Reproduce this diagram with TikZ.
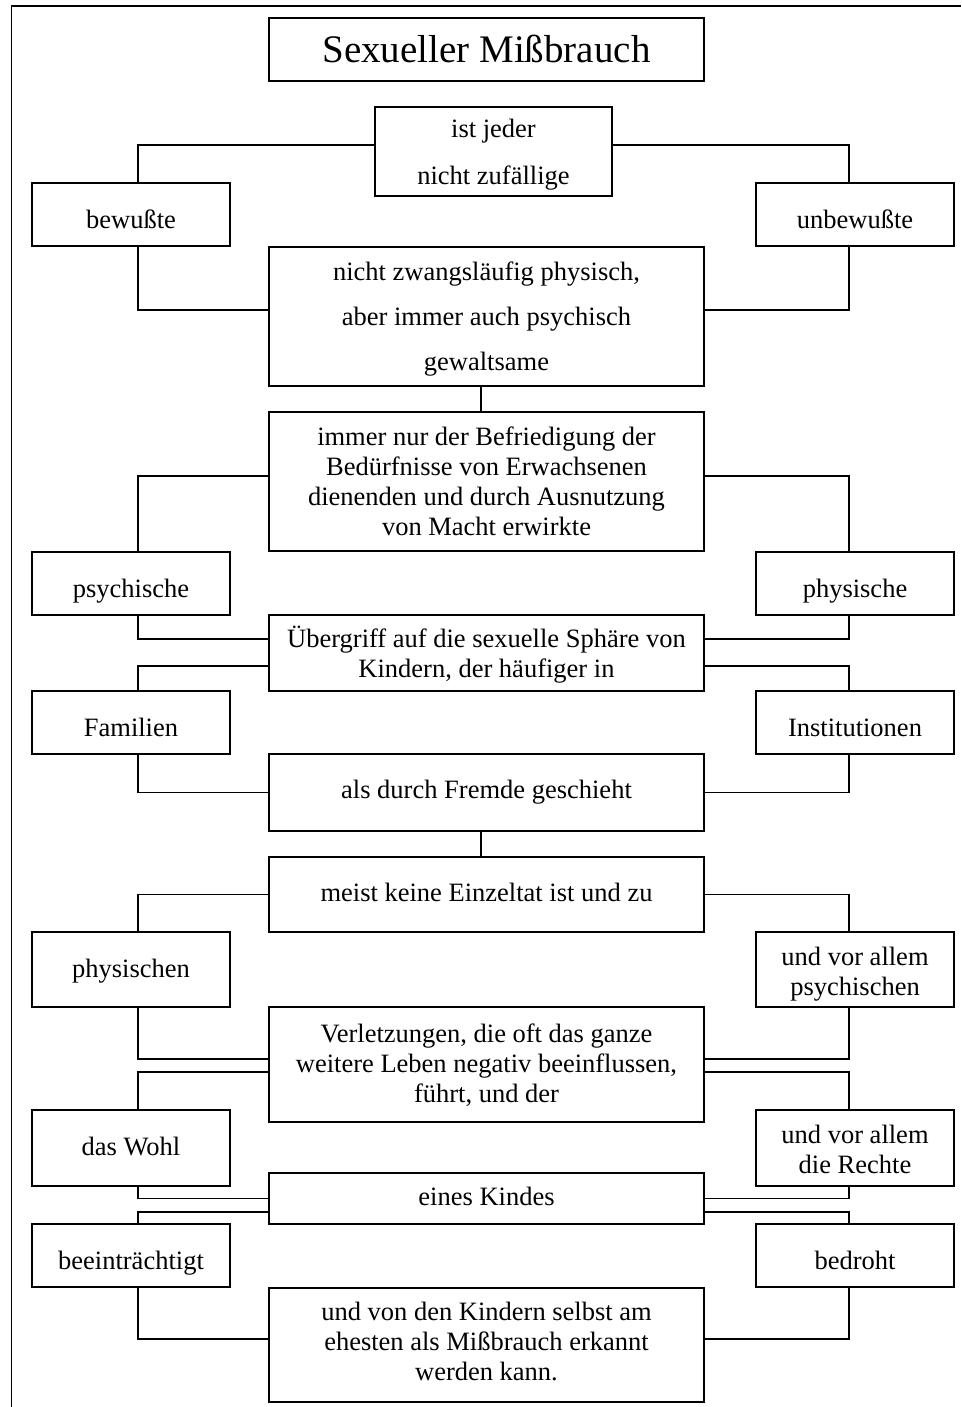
\documentclass[tikz,border=0pt]{standalone}
\usepackage{fontspec}
\setmainfont{Liberation Serif}
% Abstand erste Grundlinie von oben / Tiefe unter letzter Grundlinie
\newcommand{\oben}[1]{\rule{0pt}{#1pt}}
\newcommand{\unten}[1]{\rule[-#1pt]{0pt}{#1pt}}
\tikzset{
  kasten/.style={draw, line width=1.3pt, inner sep=0pt, align=center, font=\fontsize{26.5}{30}\selectfont},
  mitte/.style={kasten, minimum width=435pt},
  seite/.style={kasten, minimum width=198pt, minimum height=63pt},
  linie/.style={line width=1.3pt},
  platz/.style 2 args={execute at begin node={\oben{#1}}, execute at end node={\unten{#2}}}
}

\begin{document}
\begin{tikzpicture}[x=1pt, y=-1pt]
    % Rand
    \useasboundingbox (0,0) rectangle (961,1407);
    \draw[line width=1.5pt] (11.5,1407) -- (11.5,6) -- (961,6);
    % Titel
    \node[mitte, minimum height=63pt, platz={45}{18}, font=\fontsize{39}{44}\selectfont] (titel) at (486.5,49.5) {Sexueller Mißbrauch};
    % Mittlere Kaesten
    \node[kasten, minimum width=237pt, minimum height=89pt] (jeder) at (493.5,151.5) {\oben{31}ist jeder\\[17pt]nicht zufällige\unten{11}};
    \node[mitte, minimum height=139pt] (gewalt) at (486.5,316.5) {\oben{33.5}nicht zwangsläufig physisch,\\[15pt]aber immer auch psychisch\\[15pt]gewaltsame\unten{15.5}};
    \node[mitte, minimum height=139pt] (macht) at (486.5,481.5) {\oben{33.5}immer nur der Befriedigung der\\Bedürfnisse von Erwachsenen\\dienenden und durch Ausnutzung\\von Macht erwirkte\unten{15.5}};
    \node[mitte, minimum height=76pt] (sphaere) at (486.5,653) {\oben{32}Übergriff auf die sexuelle Sphäre von\\Kindern, der häufiger in\unten{14}};
    \node[mitte, minimum height=77pt, platz={44}{33}] (fremde) at (486.5,792.5) {als durch Fremde geschieht};
    \node[mitte, minimum height=75pt, platz={44}{31}] (einzeltat) at (486.5,894.5) {meist keine Einzeltat ist und zu};
    \node[mitte, minimum height=115pt] (verletzung) at (486.5,1064.5) {\oben{35.5}Verletzungen, die oft das ganze\\weitere Leben negativ beeinflussen,\\führt, und der\unten{19.5}};
    \node[mitte, minimum height=51pt, platz={32}{19}] (kind) at (486.5,1198.5) {eines Kindes};
    \node[mitte, minimum height=114pt] (erkannt) at (486.5,1345) {\oben{32}und von den Kindern selbst am\\ehesten als Mißbrauch erkannt\\werden kann.\unten{22}};
    % Seitliche Kaesten
    \node[seite, platz={45}{18}] (bewusst) at (131,214.5) {bewußte};
    \node[seite, platz={45}{18}] (unbewusst) at (855,214.5) {unbewußte};
    \node[seite, platz={45}{18}] (psychisch) at (131,583.5) {psychische};
    \node[seite, platz={45}{18}] (physisch) at (855,583.5) {physische};
    \node[seite, platz={45}{18}] (familien) at (131,722.5) {Familien};
    \node[seite, platz={45}{18}] (institution) at (855,722.5) {Institutionen};
    \node[seite, minimum height=75pt, platz={45}{30}] (physischen) at (131,969.5) {physischen};
    \node[seite, minimum height=75pt] (psychischen) at (855,969.5) {\oben{33}und vor allem\\psychischen\unten{12}};
    \node[seite, minimum height=76pt, platz={45}{31}] (wohl) at (131,1148) {das Wohl};
    \node[seite, minimum height=76pt] (rechte) at (855,1148) {\oben{33}und vor allem\\die Rechte\unten{13}};
    \node[seite, platz={45}{18}] (beein) at (131,1255.5) {beeinträchtigt};
    \node[seite, platz={45}{18}] (bedroht) at (855,1255.5) {bedroht};
    % Verbindungen
    \draw[linie] ([yshift=6.5pt]jeder.west) -| ([xshift=7pt]bewusst.north);
    \draw[linie] ([yshift=6.5pt]jeder.east) -| ([xshift=-6pt]unbewusst.north);
    \draw[linie] ([xshift=7pt]bewusst.south) |- ([yshift=6.5pt]gewalt.west);
    \draw[linie] ([xshift=-6pt]unbewusst.south) |- ([yshift=6.5pt]gewalt.east);
    \draw[linie] ([xshift=-5.5pt]gewalt.south) -- ([xshift=-5.5pt]macht.north);
    \draw[linie] ([yshift=5.5pt]macht.west) -| ([xshift=7pt]psychisch.north);
    \draw[linie] ([yshift=5.5pt]macht.east) -| ([xshift=-6pt]physisch.north);
    \draw[linie] ([xshift=7pt]psychisch.south) |- ([yshift=14pt]sphaere.west);
    \draw[linie] ([xshift=-6pt]physisch.south) |- ([yshift=14pt]sphaere.east);
    \draw[linie] ([yshift=-13pt]sphaere.west) -| ([xshift=7pt]familien.north);
    \draw[linie] ([yshift=-13pt]sphaere.east) -| ([xshift=-6pt]institution.north);
    \draw[linie] ([xshift=7pt]familien.south) |- (fremde.west);
    \draw[linie] ([xshift=-6pt]institution.south) |- (fremde.east);
    \draw[linie] ([xshift=-5.5pt]fremde.south) -- ([xshift=-5.5pt]einzeltat.north);
    \draw[linie] (einzeltat.west) -| ([xshift=7pt]physischen.north);
    \draw[linie] (einzeltat.east) -| ([xshift=-6pt]psychischen.north);
    \draw[linie] ([xshift=7pt]physischen.south) |- ([yshift=5.5pt]verletzung.west);
    \draw[linie] ([xshift=-6pt]psychischen.south) |- ([yshift=5.5pt]verletzung.east);
    \draw[linie] ([yshift=-7.5pt]verletzung.west) -| ([xshift=7pt]wohl.north);
    \draw[linie] ([yshift=-7.5pt]verletzung.east) -| ([xshift=-6pt]rechte.north);
    \draw[linie] ([xshift=7pt]wohl.south) |- (kind.west);
    \draw[linie] ([xshift=-6pt]rechte.south) |- (kind.east);
    \draw[linie] ([yshift=-13.5pt]kind.west) -| ([xshift=7pt]beein.north);
    \draw[linie] ([yshift=-13.5pt]kind.east) -| ([xshift=-6pt]bedroht.north);
    \draw[linie] ([xshift=7pt]beein.south) |- ([yshift=6pt]erkannt.west);
    \draw[linie] ([xshift=-6pt]bedroht.south) |- ([yshift=6pt]erkannt.east);
\end{tikzpicture}
\end{document}
